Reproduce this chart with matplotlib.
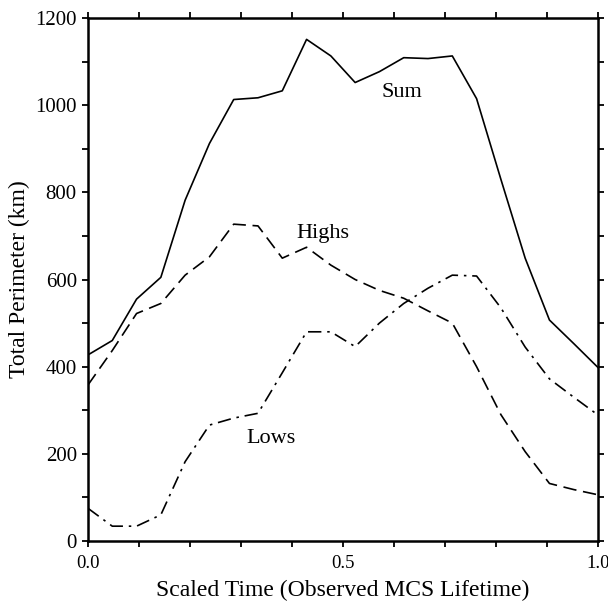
import numpy as np
import matplotlib
matplotlib.use("Agg")
import matplotlib.pyplot as plt
from matplotlib.ticker import MultipleLocator, FixedLocator

plt.rcParams['font.family'] = ['Liberation Serif', 'DejaVu Serif']
plt.rcParams['font.serif'] = ['Liberation Serif', 'DejaVu Serif']

n_steps = 21
time = [i / n_steps for i in range(n_steps + 1)]

sum_vals = [427, 460, 555, 605, 782, 912, 1013, 1017, 1033, 1151, 1113,
            1052, 1077, 1109, 1107, 1113, 1015, 830, 649, 507, 453, 398]
highs_vals = [358, 437, 522, 545, 610, 652, 727, 723, 649, 674, 633,
              600, 575, 557, 528, 500, 400, 290, 205, 132, 118, 106]
lows_vals = [75, 34, 34, 60, 182, 266, 282, 293, 386, 480, 480,
             446, 500, 545, 580, 610, 608, 535, 445, 372, 330, 289]

series_labels = ["Sum", "Highs", "Lows"]
label_pos = [(0.576, 1018), (0.408, 696), (0.311, 225)]

x_ticks = [0.0, 0.5, 1.0]
x_ticklabels = ["0.0", "0.5", "1.0"]
y_ticks = [0, 200, 400, 600, 800, 1000, 1200]
y_ticklabels = ["0", "200", "400", "600", "800", "1000", "1200"]

fig = plt.figure(figsize=(6.08, 6.05), dpi=100)
ax = fig.add_axes([0.1447, 0.1058, 0.8389, 0.8644])

ax.plot(time, sum_vals, color='black', lw=1.2, ls='-')
ax.plot(time, highs_vals, color='black', lw=1.2, ls=(0, (8, 4)))
ax.plot(time, lows_vals, color='black', lw=1.2, ls=(0, (8, 3.5, 1.5, 3.5)))

for lab, (x, y) in zip(series_labels, label_pos):
    ax.text(x, y, lab, fontsize=16, ha='left', va='baseline',
            fontfamily='Liberation Serif')

ax.set_xlim(0, 1)
ax.set_ylim(0, 1200)
ax.xaxis.set_major_locator(FixedLocator(x_ticks))
ax.xaxis.set_minor_locator(MultipleLocator(0.1))
ax.yaxis.set_major_locator(FixedLocator(y_ticks))
ax.yaxis.set_minor_locator(MultipleLocator(100))
ax.set_xticklabels(x_ticklabels, fontfamily='Liberation Serif', fontsize=13.5)
ax.set_yticklabels(y_ticklabels, fontfamily='Liberation Serif', fontsize=15)

ax.tick_params(which='both', direction='out', top=True, right=True,
               labeltop=False, labelright=False, width=1.3, color='black',
               length=4)
ax.tick_params(axis='x', pad=6)
ax.tick_params(axis='y', pad=4)

for sp in ax.spines.values():
    sp.set_linewidth(1.8)

ax.set_xlabel("Scaled Time (Observed MCS Lifetime)", fontsize=17, labelpad=6,
              fontfamily='Liberation Serif')
ax.set_ylabel("Total Perimeter (km)", fontsize=17, labelpad=4,
              fontfamily='Liberation Serif')

fig.savefig("out.png", dpi=100)
